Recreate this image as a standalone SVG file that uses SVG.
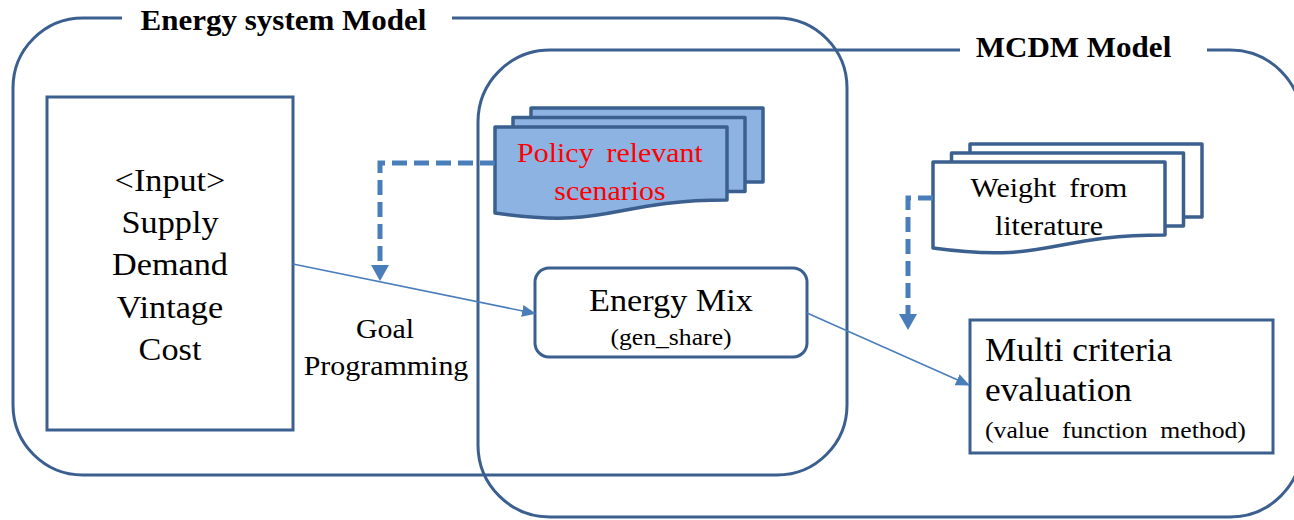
<svg xmlns="http://www.w3.org/2000/svg" width="1294" height="520" viewBox="0 0 1294 520">
<defs>
<style>
.frame{fill:none;stroke:#3B6090;stroke-width:3}
.box{fill:#fff;stroke:#3B6090;stroke-width:3}
.doc{fill:#8DB3E2;stroke:#3B6090;stroke-width:3.5;stroke-linejoin:round}
.docw{fill:#fff;stroke:#3B6090;stroke-width:3.5;stroke-linejoin:round}
.t{font-family:"Liberation Serif","Times New Roman",serif;fill:#000;text-anchor:middle}
.tl{font-family:"Liberation Serif","Times New Roman",serif;fill:#000;text-anchor:start}
.title{font-family:"Liberation Serif","Times New Roman",serif;font-weight:bold;font-size:29px;fill:#000;text-anchor:middle}
.line{fill:none;stroke:#4A7EBB;stroke-width:1.6}
.dash{fill:none;stroke:#4A7EBB;stroke-width:5;stroke-dasharray:15 7}
</style>
<marker id="arr" markerUnits="userSpaceOnUse" markerWidth="14" markerHeight="12" refX="13" refY="6" orient="auto">
<path d="M0,0 L14,6 L0,12 z" fill="#4A7EBB"/>
</marker>
<marker id="arrBig" markerUnits="userSpaceOnUse" markerWidth="16" markerHeight="18" refX="0" refY="9" orient="auto">
<path d="M0,0 L16,9 L0,18 z" fill="#4A7EBB"/>
</marker>
</defs>

<g id="energy-system-model">
<path class="frame" d="M122,18 H83 A70,70 0 0 0 13,88 V405 A70,70 0 0 0 83,475 H777 A70,70 0 0 0 847,405 V88 A70,70 0 0 0 777,18 H452"/>
<text class="title" transform="translate(283.5,29.5) scale(1.07,1)">Energy system Model</text>
</g>

<g id="mcdm-model">
<path class="frame" d="M960,50 H550 A72,72 0 0 0 478,122 V445 A72,72 0 0 0 550,517 H1230 A72,72 0 0 0 1302,445 V122 A72,72 0 0 0 1230,50 H1207"/>
<text class="title" transform="translate(1073.5,57) scale(1.07,1)">MCDM Model</text>
</g>

<g id="input">
<rect class="box" x="47" y="97" width="246" height="333"/>
<g class="t" font-size="32">
<text class="t" transform="translate(170,191) scale(1.07,1)">&lt;Input&gt;</text>
<text class="t" transform="translate(170,233) scale(1.07,1)">Supply</text>
<text class="t" transform="translate(170,275) scale(1.07,1)">Demand</text>
<text class="t" transform="translate(170,318) scale(1.07,1)">Vintage</text>
<text class="t" transform="translate(170,360) scale(1.07,1)">Cost</text>
</g>
</g>

<g id="goal-programming">
<g class="t" font-size="28">
<text class="t" transform="translate(385,338) scale(1.07,1)">Goal</text>
<text class="t" transform="translate(386,375) scale(1.07,1)">Programming</text>
</g>
</g>

<g id="policy-scenarios">
<rect class="doc" x="531" y="108" width="232" height="74"/>
<rect class="doc" x="513" y="117.5" width="232" height="74"/>
<path class="doc" d="M495,127 H727 V200 C611,200 611,230 495,213 Z"/>
<g class="t" font-size="28">
<text class="t" transform="translate(610,162) scale(1.07,1)" style="fill:#FF0000;word-spacing:5px">Policy relevant</text>
<text class="t" transform="translate(610,200) scale(1.07,1)" style="fill:#FF0000">scenarios</text>
</g>
</g>

<g id="weight-literature">
<rect class="docw" x="970" y="144" width="232" height="73"/>
<rect class="docw" x="951.5" y="153" width="232" height="73"/>
<path class="docw" d="M933,162 H1165 V235 C1049,235 1049,264 933,248 Z"/>
<g class="t" font-size="28">
<text class="t" transform="translate(1049,197) scale(1.07,1)" style="word-spacing:5px">Weight from</text>
<text class="t" transform="translate(1049,235) scale(1.07,1)">literature</text>
</g>
</g>

<g id="energy-mix">
<rect class="box" x="535" y="268" width="272" height="89" rx="14" ry="14"/>
<text class="t" font-size="32" transform="translate(671,311) scale(1.07,1)">Energy Mix</text>
<text class="t" font-size="24" transform="translate(671,345) scale(1.07,1)">(gen_share)</text>
</g>

<g id="multi-criteria">
<rect class="box" x="970" y="320" width="303" height="133"/>
<text class="tl" font-size="33" transform="translate(985,361) scale(1.07,1)">Multi criteria</text>
<text class="tl" font-size="33" transform="translate(985,401) scale(1.07,1)">evaluation</text>
<text class="tl" font-size="24" transform="translate(985,438) scale(1.07,1)" style="word-spacing:6px">(value function method)</text>
</g>

<g id="connectors">
<line class="line" x1="293" y1="264" x2="535" y2="313.5" marker-end="url(#arr)"/>
<line class="line" x1="807" y1="313" x2="969" y2="385" marker-end="url(#arr)"/>
<path class="dash" d="M495,163 H380 V265" marker-end="url(#arrBig)"/>
<path class="dash" d="M933,198 H908 V314" marker-end="url(#arrBig)"/>
</g>
</svg>
